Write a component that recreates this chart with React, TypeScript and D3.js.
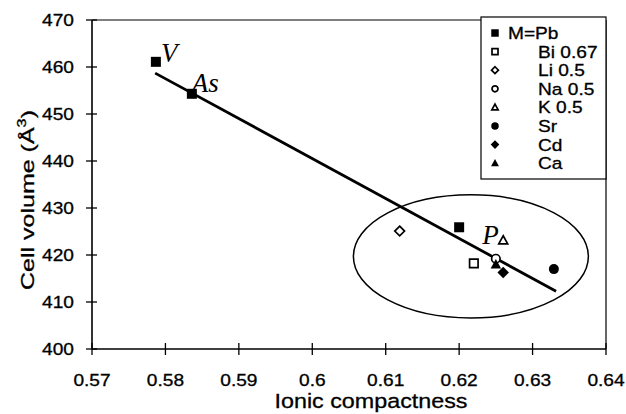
import React from "react";
import * as d3 from "d3";

// series
const seriesNames = ["M=Pb", "Bi 0.67", "Li 0.5", "Na 0.5", "K 0.5", "Sr", "Cd", "Ca"];
const seriesShapes = ["square", "square", "diamond", "circle", "triangle", "circle", "diamond", "triangle"];
const seriesFilled = [true, false, false, false, false, true, true, true];

const pbX = [0.5787, 0.5836, 0.62];
const pbY = [461.1, 454.3, 425.9];
const pbLabels = ["V", "As", "P"];
const biX = [0.622];
const biY = [418.2];
const liX = [0.6119];
const liY = [425.1];
const naX = [0.625];
const naY = [419.2];
const kX = [0.626];
const kY = [423.1];
const srX = [0.6329];
const srY = [417.0];
const cdX = [0.626];
const cdY = [416.3];
const caX = [0.625];
const caY = [418.0];

// fitted line end points and circled group
const fitX = [0.5786, 0.6332];
const fitY = [458.7, 412.3];
const ellipseC = [0.6216, 419.7];
const ellipseR = [0.016, 13.1];

const xTicks = [0.57, 0.58, 0.59, 0.6, 0.61, 0.62, 0.63, 0.64];
const yTicks = [400, 410, 420, 430, 440, 450, 460, 470];

const seriesX = [pbX, biX, liX, naX, kX, srX, cdX, caX];
const seriesY = [pbY, biY, liY, naY, kY, srY, cdY, caY];

const W = 626, H = 414;
const x = d3.scaleLinear().domain([0.57, 0.64]).range([92, 606]);
const y = d3.scaleLinear().domain([400, 470]).range([349, 20]);

const SANS = "'Liberation Sans', Arial, sans-serif";
const SERIF = "'Liberation Serif', 'Times New Roman', serif";
const SX = 1.16; // the scan is a bit wider than tall

function markerPath(shape: string, s: number) {
  const h = s / 2;
  if (shape === "square") return `M${-h},${-h}H${h}V${h}H${-h}Z`;
  if (shape === "diamond") return `M0,${-h * 1.15}L${h * 1.15},0L0,${h * 1.15}L${-h * 1.15},0Z`;
  if (shape === "triangle") return `M0,${-h * 1.1}L${h * 1.05},${h * 0.8}L${-h * 1.05},${h * 0.8}Z`;
  return d3.symbol(d3.symbolCircle, Math.PI * h * h)() || "";
}

function Marker({ cx, cy, i, size }: { cx: number; cy: number; i: number; size: number }) {
  const filled = seriesFilled[i];
  const s = filled ? size : size - 1.5;
  return (
    <path
      d={markerPath(seriesShapes[i], s)}
      transform={`translate(${cx},${cy})`}
      fill={filled ? "#000" : "#fff"}
      stroke="#000"
      strokeWidth={filled ? 0 : 1.7}
    />
  );
}

function T({ x0, y0, anchor = "start", size = 16.5, children }: any) {
  return (
    <text
      transform={`translate(${x0},${y0}) scale(${SX},1)`}
      textAnchor={anchor}
      fontFamily={SANS}
      fontSize={size}
      fill="#000"
      stroke="#000"
      strokeWidth={0.3}
    >
      {children}
    </text>
  );
}

const labelOffsets = [[5, 0], [0, -2], [23, 17]];

export default function App() {
  const legendTop = 17, legendLeft = 481, legendRight = 606, legendBottom = 179;
  const rowY = (i: number) => 33 + i * 18.6;

  return (
    <svg
      width={W}
      height={H}
      style={{ position: "absolute", left: 0, top: 0, background: "#fff" }}
    >
      {/* frame */}
      <line x1={x(0.57)} x2={x(0.64)} y1={y(470)} y2={y(470)} stroke="#000" strokeWidth={1.2} />
      <line x1={x(0.64)} x2={x(0.64)} y1={y(470)} y2={y(400)} stroke="#000" strokeWidth={1.2} />
      <line x1={x(0.57)} x2={x(0.57)} y1={y(470)} y2={y(400)} stroke="#000" strokeWidth={1.6} />
      <line x1={x(0.57)} x2={x(0.64)} y1={y(400)} y2={y(400)} stroke="#000" strokeWidth={1.6} />

      {/* y ticks */}
      {yTicks.map((t) => (
        <g key={"y" + t}>
          <line x1={x(0.57) - 6} x2={x(0.57) + 5} y1={y(t)} y2={y(t)} stroke="#000" strokeWidth={1.3} />
          <T x0={74} y0={y(t) + 6} anchor="end">{t}</T>
        </g>
      ))}
      {/* x ticks */}
      {xTicks.map((t) => (
        <g key={"x" + t}>
          <line x1={x(t)} x2={x(t)} y1={y(400) - 6} y2={y(400) + 6} stroke="#000" strokeWidth={1.3} />
          <T x0={x(t)} y0={386} anchor="middle">{d3.format("~g")(t)}</T>
        </g>
      ))}

      {/* axis titles */}
      <text
        x={371}
        y={408}
        textAnchor="middle"
        fontFamily={SANS}
        fontSize={20.5}
        textLength={193}
        lengthAdjust="spacingAndGlyphs"
        stroke="#000"
        strokeWidth={0.3}
      >
        Ionic compactness
      </text>
      <text
        transform="translate(34,200) rotate(-90)"
        textAnchor="middle"
        fontFamily={SANS}
        fontSize={18.5}
        textLength={180}
        lengthAdjust="spacingAndGlyphs"
        stroke="#000"
        strokeWidth={0.3}
      >
        Cell volume (Å<tspan dy={-8} fontSize={12}>3</tspan><tspan dy={8}>)</tspan>
      </text>

      {/* circled group */}
      <ellipse
        cx={x(ellipseC[0])}
        cy={y(ellipseC[1])}
        rx={x(ellipseC[0] + ellipseR[0]) - x(ellipseC[0])}
        ry={y(ellipseC[1] - ellipseR[1]) - y(ellipseC[1])}
        fill="none"
        stroke="#000"
        strokeWidth={1.5}
      />

      {/* fitted line */}
      <path
        d={d3.line<number>().x((d) => x(d)).y((d, i) => y(fitY[i]))(fitX) || ""}
        stroke="#000"
        strokeWidth={2.8}
        fill="none"
      />

      {/* points */}
      {seriesX.map((xs, i) =>
        xs.map((v, j) => (
          <Marker key={i + "-" + j} cx={x(v)} cy={y(seriesY[i][j])} i={i} size={10} />
        ))
      )}

      {/* compound labels */}
      {pbLabels.map((l, j) => (
        <text
          key={l}
          x={x(pbX[j]) + labelOffsets[j][0]}
          y={y(pbY[j]) + labelOffsets[j][1]}
          fontFamily={SERIF}
          fontStyle="italic"
          fontSize={27}
          fill="#000"
        >
          {l}
        </text>
      ))}

      {/* legend */}
      <rect
        x={legendLeft}
        y={legendTop}
        width={legendRight - legendLeft}
        height={legendBottom - legendTop}
        fill="#fff"
        stroke="#000"
        strokeWidth={1.2}
      />
      {seriesNames.map((n, i) => (
        <g key={n}>
          <Marker cx={495} cy={rowY(i)} i={i} size={7.5} />
          <T x0={i === 0 ? 508 : 538} y0={rowY(i) + 6}>{n}</T>
        </g>
      ))}
    </svg>
  );
}
